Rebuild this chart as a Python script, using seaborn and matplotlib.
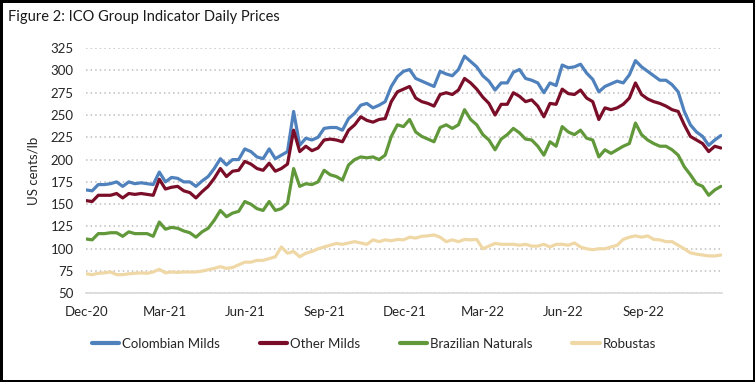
import matplotlib
matplotlib.use("Agg")
import matplotlib.pyplot as plt
import matplotlib.dates as mdates
import seaborn as sns
import numpy as np
import pandas as pd

# weekly readings (US cents/lb), Dec 2020 - Nov 2022
colombian = [166, 165, 172, 172, 173, 175, 170, 175, 173, 174, 173, 172, 186, 175, 180, 179, 175, 175, 170, 176,
             181, 190, 201, 194, 200, 200, 212, 209, 203, 201, 212, 201, 205, 209, 254, 216, 224, 222, 225, 235,
             236, 236, 233, 246, 252, 261, 263, 258, 261, 265, 282, 293, 299, 301, 291, 288, 285, 282, 299, 296,
             294, 301, 316, 310, 304, 294, 288, 278, 286, 286, 298, 301, 291, 289, 286, 275, 286, 283, 306, 303,
             304, 307, 297, 290, 276, 282, 285, 288, 286, 295, 311, 304, 299, 294, 289, 289, 284, 276, 254, 239,
             231, 226, 216, 222, 227]
other_milds = [154, 153, 160, 160, 160, 162, 157, 162, 161, 162, 161, 160, 178, 167, 169, 170, 165, 163, 157, 164,
               170, 179, 190, 181, 187, 188, 198, 195, 190, 188, 196, 187, 190, 195, 233, 209, 215, 210, 213, 222,
               223, 222, 220, 233, 239, 248, 244, 242, 245, 246, 265, 276, 279, 282, 269, 265, 263, 260, 273, 275,
               273, 278, 291, 286, 279, 270, 263, 250, 262, 262, 275, 271, 265, 267, 260, 248, 263, 262, 279, 274,
               273, 278, 269, 265, 245, 258, 256, 258, 262, 269, 286, 273, 268, 265, 263, 260, 256, 254, 239, 226,
               222, 218, 209, 215, 213]
brazilian = [111, 110, 117, 117, 118, 118, 114, 119, 117, 117, 117, 114, 130, 122, 124, 123, 120, 118, 113, 119,
             123, 132, 143, 136, 140, 142, 153, 150, 145, 143, 153, 143, 145, 151, 190, 170, 173, 172, 175, 188,
             183, 181, 177, 194, 200, 203, 202, 203, 200, 205, 226, 239, 237, 245, 231, 226, 223, 220, 236, 239,
             235, 239, 256, 245, 239, 228, 222, 211, 223, 228, 235, 230, 223, 222, 215, 205, 220, 215, 237, 231,
             228, 233, 224, 222, 203, 211, 207, 211, 215, 218, 241, 228, 222, 218, 215, 215, 211, 205, 192, 183,
             173, 170, 160, 166, 170]
robustas = [72, 71, 72.5, 73, 74, 71, 71, 72, 72.5, 73, 72.5, 74, 77, 73, 74, 73.5, 74, 74, 74, 75,
            76.5, 78, 80, 78, 79, 82, 85, 85, 87, 87, 89, 91, 102, 95, 97, 91, 95, 97, 100, 102,
            104, 106, 105, 106.5, 108, 106.5, 105, 110, 108, 110, 109, 110.5, 110, 113, 112, 114, 114.5, 115.5, 113, 108,
            110, 108, 110.5, 110, 110.5, 100, 103, 106, 105, 105, 105, 104, 105, 103, 103, 105, 102, 105, 105, 104,
            106.5, 102, 100, 99, 100, 100, 102, 104, 110.5, 113, 114.5, 113, 114.5, 110.5, 110, 108, 108, 104, 100, 95.5,
            94, 93, 92, 92, 93]

series_names = ["Colombian Milds", "Other Milds", "Brazilian Naturals", "Robustas"]
colors = ["#4F81BD", "#7A0E28", "#61983A", "#EFD8A6"]
y_ticks = [50, 75, 100, 125, 150, 175, 200, 225, 250, 275, 300, 325]

dates = pd.date_range("2020-12-01", periods=len(colombian), freq="7D")
df = pd.DataFrame({"date": dates, "Colombian Milds": colombian, "Other Milds": other_milds,
                   "Brazilian Naturals": brazilian, "Robustas": robustas})
long = df.melt(id_vars="date", var_name="group", value_name="price")

sns.set_style("white")
plt.rcParams["font.family"] = ["Lato", "DejaVu Sans"]

fig = plt.figure(figsize=(7.55, 3.82), dpi=100, edgecolor="black", linewidth=2.5)
ax = fig.add_axes([0.114, 0.232, 0.842, 0.642])

sns.lineplot(data=long, x="date", y="price", hue="group", hue_order=series_names,
             palette=colors, linewidth=2.3, ax=ax, legend=False)

ax.set_xlim(pd.Timestamp("2020-12-01"), pd.Timestamp("2022-11-30"))
ax.set_ylim(50, 325)
ax.set_yticks(y_ticks)
ax.xaxis.set_major_locator(mdates.MonthLocator(bymonth=[3, 6, 9, 12]))
ax.xaxis.set_major_formatter(mdates.DateFormatter("%b-%y"))
ax.yaxis.grid(True, linestyle=(0, (1, 2)), color="#BFBFBF", linewidth=1.1)
ax.set_axisbelow(True)
for s in ["top", "right", "left"]:
    ax.spines[s].set_visible(False)
ax.spines["bottom"].set_color("#D9D9D9")
ax.spines["bottom"].set_linewidth(1.2)
ax.tick_params(axis="both", length=0, labelsize=9.5, colors="#262626")
ax.tick_params(axis="x", pad=9)
ax.tick_params(axis="y", pad=9)
ax.set_xlabel("")
ax.set_ylabel("US cents/lb", fontsize=9.5, color="#262626", labelpad=8)

handles = [plt.Line2D([], [], color=c, linewidth=3) for c in colors]
fig.legend(handles, series_names, loc="center", bbox_to_anchor=(0.495, 0.1), ncol=4,
           frameon=False, fontsize=9.5, handlelength=2.1, handletextpad=0.2, columnspacing=3.0)

fig.text(0.011, 0.955, "Figure 2: ICO Group Indicator Daily Prices", fontsize=10.5,
         color="#1a1a1a", ha="left", va="center")

fig.savefig("out.png", dpi=100)
